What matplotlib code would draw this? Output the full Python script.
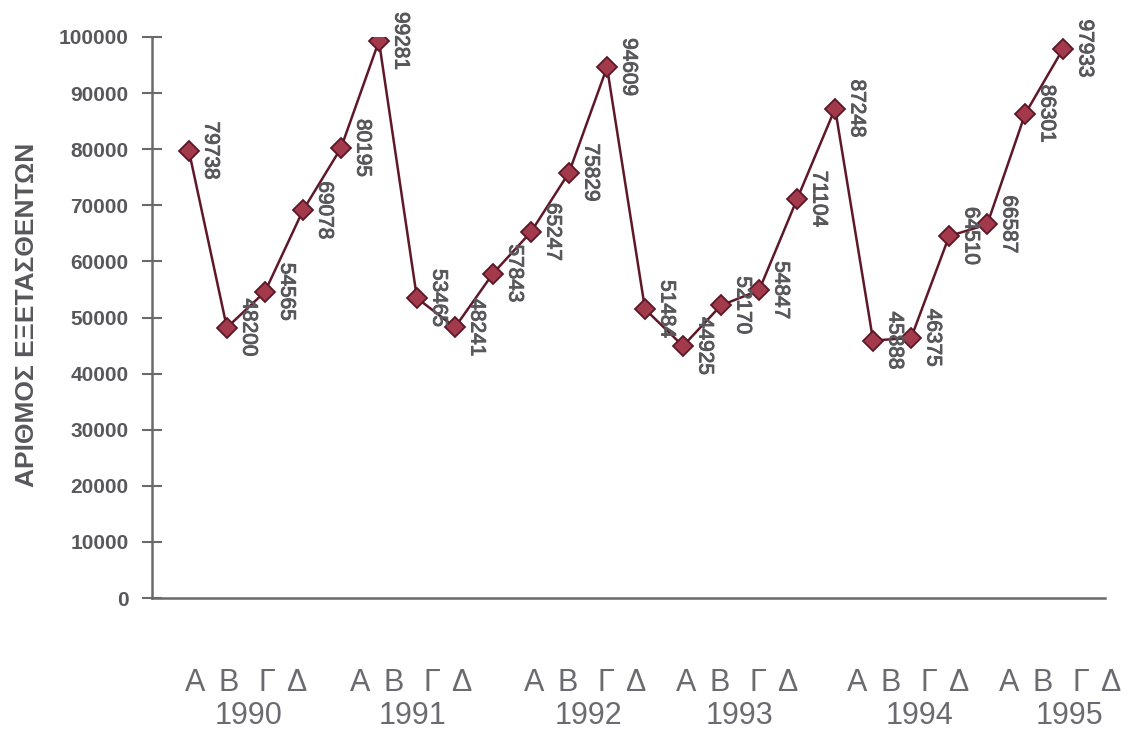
import numpy as np
import matplotlib.pyplot as plt
import matplotlib.patheffects as pe

# εξεταζόμενοι ανά τρίμηνο, 1990-1995
years = ['1990', '1991', '1992', '1993', '1994', '1995']
quarters = ['Α', 'Β', 'Γ', 'Δ']
values = [79738, 48200, 54565, 69078,
          80195, 99281, 53465, 48241,
          57843, 65247, 75829, 94609,
          51484, 44925, 52170, 54847,
          71104, 87248, 45888, 46375,
          64510, 66587, 86301, 97933]
yticks = [0, 10000, 20000, 30000, 40000, 50000, 60000, 70000, 80000, 90000, 100000]

plt.rcParams['font.family'] = ['Liberation Sans', 'DejaVu Sans']
grey = '#58585c'

W, H = 1128, 733
fig = plt.figure(figsize=(W / 100, H / 100), dpi=100)
ax = fig.add_axes([152 / W, 1 - 598 / H, (1105 - 152) / W, (598 - 37) / H])

x = np.arange(len(values))
ax.plot(x, values, color='#5e1828', lw=1.8, marker='D', markersize=10,
        markerfacecolor='#a33a4c', markeredgecolor='#5a1826', markeredgewidth=1.3,
        zorder=3)

# λίγο πιο έντονες ετικέτες τιμών
thick = [pe.withStroke(linewidth=0.7, foreground=grey)]
for xi, v in zip(x, values):
    ax.annotate(str(v), (xi, v), xytext=(9, 0), textcoords='offset points',
                rotation=270, ha='left', va='center', fontsize=15,
                color=grey, zorder=4, path_effects=thick)

ax.set_xlim(-0.97, 24.1)
ax.set_ylim(0, 100000)
ax.set_yticks(yticks)
ax.set_yticklabels([str(t) for t in yticks], fontsize=15, fontweight='bold', color=grey)
ax.set_xticks([])
ax.tick_params(axis='y', direction='inout', length=14, width=1.5, color='#6a6a6a', pad=10)

for side in ['top', 'right']:
    ax.spines[side].set_visible(False)
for side in ['left', 'bottom']:
    ax.spines[side].set_color('#6a6a6a')
    ax.spines[side].set_linewidth(1.8)

fig.text(27 / W, 1 - 315 / H, 'ΑΡΙΘΜΟΣ ΕΞΕΤΑΣΘΕΝΤΩΝ', rotation=90, ha='center', va='center',
         fontsize=19, fontweight='bold', color=grey)

# ομάδες τριμήνων κάτω από τον άξονα
q_centers = [246, 411, 585, 737, 908, 1060]
y_centers = [249, 412, 588, 740, 919, 1069]
q_offsets = [-51, -17, 21, 50]
for qc, yc, yr in zip(q_centers, y_centers, years):
    for q, off in zip(quarters, q_offsets):
        fig.text((qc + off) / W, 1 - 683 / H, q, ha='center', va='center',
                 fontsize=22, color='#6a6a70')
    fig.text(yc / W, 1 - 716 / H, yr, ha='center', va='center',
             fontsize=22, color='#6a6a70')

fig.savefig('out.png', dpi=100, facecolor='white')
